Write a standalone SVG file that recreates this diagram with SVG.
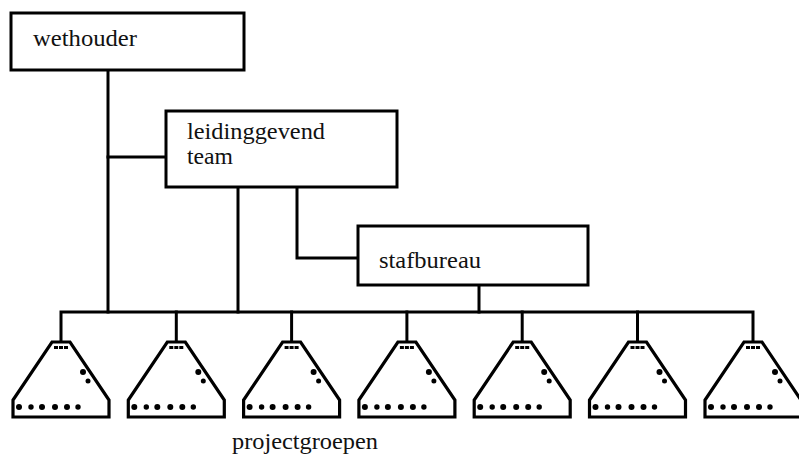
<svg xmlns="http://www.w3.org/2000/svg" xmlns:xlink="http://www.w3.org/1999/xlink" width="799" height="458" viewBox="0 0 799 458">
<style>
.box{fill:#fff;stroke:#000;stroke-width:3}
.ln{fill:none;stroke:#000;stroke-width:3;stroke-linejoin:miter;stroke-linecap:square}
.t{font-family:"Liberation Serif","Times New Roman",serif;font-size:24px;fill:#111}
.pg{fill:#fff;stroke:#000;stroke-width:3.2;stroke-linejoin:miter}
.dot{fill:#000}
</style>
<defs>
<g id="pgshape">
<path class="pg" d="M-9,342 L9,342 L48,400 L48,417 L-48,417 L-48,400 Z"/>
<line x1="-7" y1="347.5" x2="7" y2="347.5" stroke="#000" stroke-width="3" stroke-dasharray="4,1"/>
<circle class="dot" cx="22" cy="372" r="3"/>
<circle class="dot" cx="27" cy="381" r="2.5"/>
<circle class="dot" cx="-42" cy="407" r="3"/>
<circle class="dot" cx="-30" cy="407" r="2.7"/>
<circle class="dot" cx="-19" cy="407" r="3"/>
<circle class="dot" cx="-6" cy="407" r="3"/>
<circle class="dot" cx="6" cy="407" r="3"/>
<circle class="dot" cx="17" cy="407" r="2.7"/>
</g>
</defs>
<rect width="799" height="458" fill="#fff"/>
<g id="connectors">
<polyline class="ln" points="108,70 108,312"/>
<polyline class="ln" points="108,157 166,157"/>
<polyline class="ln" points="238,187 238,312"/>
<polyline class="ln" points="297,187 297,258 358,258"/>
<polyline class="ln" points="479,285 479,312"/>
<polyline class="ln" points="61,342 61,312 753,312 753,342"/>
<line class="ln" x1="176.3" y1="312" x2="176.3" y2="342"/>
<line class="ln" x1="291.6" y1="312" x2="291.6" y2="342"/>
<line class="ln" x1="406.9" y1="312" x2="406.9" y2="342"/>
<line class="ln" x1="522.2" y1="312" x2="522.2" y2="342"/>
<line class="ln" x1="637.5" y1="312" x2="637.5" y2="342"/>
</g>
<g id="wethouder">
<rect class="box" x="11" y="13" width="233" height="57"/>
<text class="t" x="33" y="46" textLength="104" lengthAdjust="spacingAndGlyphs">wethouder</text>
</g>
<g id="leidinggevend-team">
<rect class="box" x="166" y="111" width="231" height="76"/>
<text class="t" x="187" y="139" textLength="138" lengthAdjust="spacingAndGlyphs">leidinggevend</text>
<text class="t" x="187" y="164" textLength="46" lengthAdjust="spacingAndGlyphs">team</text>
</g>
<g id="stafbureau">
<rect class="box" x="358" y="226" width="230" height="59"/>
<text class="t" x="379" y="268" textLength="102" lengthAdjust="spacingAndGlyphs">stafbureau</text>
</g>
<g id="projectgroep-1"><use xlink:href="#pgshape" transform="translate(61,0)"/></g>
<g id="projectgroep-2"><use xlink:href="#pgshape" transform="translate(176.3,0)"/></g>
<g id="projectgroep-3"><use xlink:href="#pgshape" transform="translate(291.6,0)"/></g>
<g id="projectgroep-4"><use xlink:href="#pgshape" transform="translate(406.9,0)"/></g>
<g id="projectgroep-5"><use xlink:href="#pgshape" transform="translate(522.2,0)"/></g>
<g id="projectgroep-6"><use xlink:href="#pgshape" transform="translate(637.5,0)"/></g>
<g id="projectgroep-7"><use xlink:href="#pgshape" transform="translate(753,0)"/></g>
<g id="label-projectgroepen">
<text class="t" x="232" y="449" textLength="146" lengthAdjust="spacingAndGlyphs">projectgroepen</text>
</g>
</svg>
